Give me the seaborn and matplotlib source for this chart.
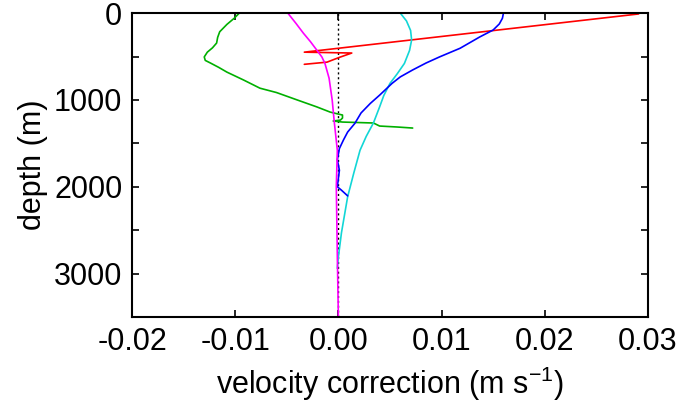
import pandas as pd
import matplotlib
matplotlib.use("Agg")
import matplotlib.pyplot as plt
import seaborn as sns

# velocity correction profiles (m/s) vs depth (m)
green_v = [-0.0096, -0.0101, -0.0108, -0.0115, -0.0117, -0.0118, -0.0122, -0.0127, -0.0130, -0.0129,
           -0.0124, -0.0116, -0.0108, -0.0092, -0.0076, -0.0060, -0.0040, -0.0021, -0.0008, 0.0000,
           0.0004, 0.0004, 0.0002, -0.0005, 0.0004, 0.0034, 0.0040, 0.0057, 0.0072]
green_z = [0, 60, 130, 215, 280, 345, 400, 450, 505, 545,
           575, 625, 680, 770, 865, 915, 1000, 1080, 1140, 1163,
           1174, 1209, 1232, 1243, 1255, 1266, 1301, 1312, 1324]

red_v = [0.0291, -0.0033, 0.0013, 0.0001, -0.0011, -0.0033]
red_z = [10, 450, 460, 510, 565, 590]

blue_v = [0.0160, 0.0159, 0.0156, 0.0150, 0.0137, 0.0118, 0.0098, 0.0085, 0.0072, 0.0060,
          0.0052, 0.0040, 0.0031, 0.0022, 0.0016, 0.0009, 0.0005, 0.0001, -0.0001, 0.0001,
          -0.0001, 0.0003, 0.0009]
blue_z = [0, 60, 125, 195, 275, 405, 505, 575, 655, 735,
          810, 945, 1040, 1150, 1270, 1370, 1460, 1560, 1690, 1810,
          2000, 2040, 2105]

cyan_v = [0.0060, 0.0066, 0.0070, 0.0071, 0.0069, 0.0064, 0.0057, 0.0050, 0.0044, 0.0040,
          0.0034, 0.0027, 0.0021, 0.0015, 0.0009, 0.0003, 0.0000, -0.0001]
cyan_z = [0, 90, 200, 310, 430, 580, 700, 810, 950, 1080,
          1265, 1420, 1580, 1840, 2115, 2530, 2810, 2940]

magenta_v = [-0.0049, -0.0041, -0.0034, -0.0027, -0.0021, -0.0016, -0.0013, -0.0009, -0.0006, -0.0004,
             -0.0001, -0.0002, -0.0001, 0.0000]
magenta_z = [0, 120, 230, 330, 425, 505, 580, 750, 1000, 1250,
             1580, 2000, 2800, 3500]

sns.set_style("white")
plt.rcParams['font.family'] = ['Liberation Sans', 'DejaVu Sans']
plt.rcParams['mathtext.fontset'] = 'custom'
plt.rcParams['mathtext.rm'] = 'Liberation Sans'
plt.rcParams['text.color'] = 'k'
plt.rcParams['axes.labelcolor'] = 'k'
plt.rcParams['xtick.color'] = 'k'
plt.rcParams['ytick.color'] = 'k'

fig = plt.figure(figsize=(6.77, 4.09), dpi=100)
ax = fig.add_axes([0.195, 0.225, 0.762, 0.743])

ax.axvline(0, color="k", ls=(0, (1.5, 2)), lw=1)

profiles = [(green_v, green_z, "#00b000"), (red_v, red_z, "#ff0000"),
            (cyan_v, cyan_z, "#12d6d6"), (blue_v, blue_z, "#0000ff"),
            (magenta_v, magenta_z, "#ff00ff")]
for v, z, c in profiles:
    df = pd.DataFrame({"v": v, "z": z})
    sns.lineplot(data=df, x="v", y="z", sort=False, estimator=None, color=c, lw=1.2, ax=ax)

ax.set_xlim(-0.02, 0.03)
ax.set_ylim(3500, 0)
ax.set_xticks([-0.02, -0.01, 0.0, 0.01, 0.02, 0.03])
ax.set_xticklabels(["-0.02", "-0.01", "0.00", "0.01", "0.02", "0.03"])
ax.set_yticks(range(0, 3501, 500))
ax.set_yticklabels(["0", "", "1000", "", "2000", "", "3000", ""])
ax.tick_params(direction="in", length=5, width=1.2, labelsize=22, top=True, right=True,
               bottom=True, left=True, pad=7)
for s in ax.spines.values():
    s.set_linewidth(1.5)
    s.set_color("k")
ax.set_xlabel("velocity correction (m s$^{\\mathrm{-1}}$)", fontsize=22, labelpad=6)
ax.set_ylabel("depth (m)", fontsize=22, labelpad=4)

fig.savefig("out.png", dpi=100)
